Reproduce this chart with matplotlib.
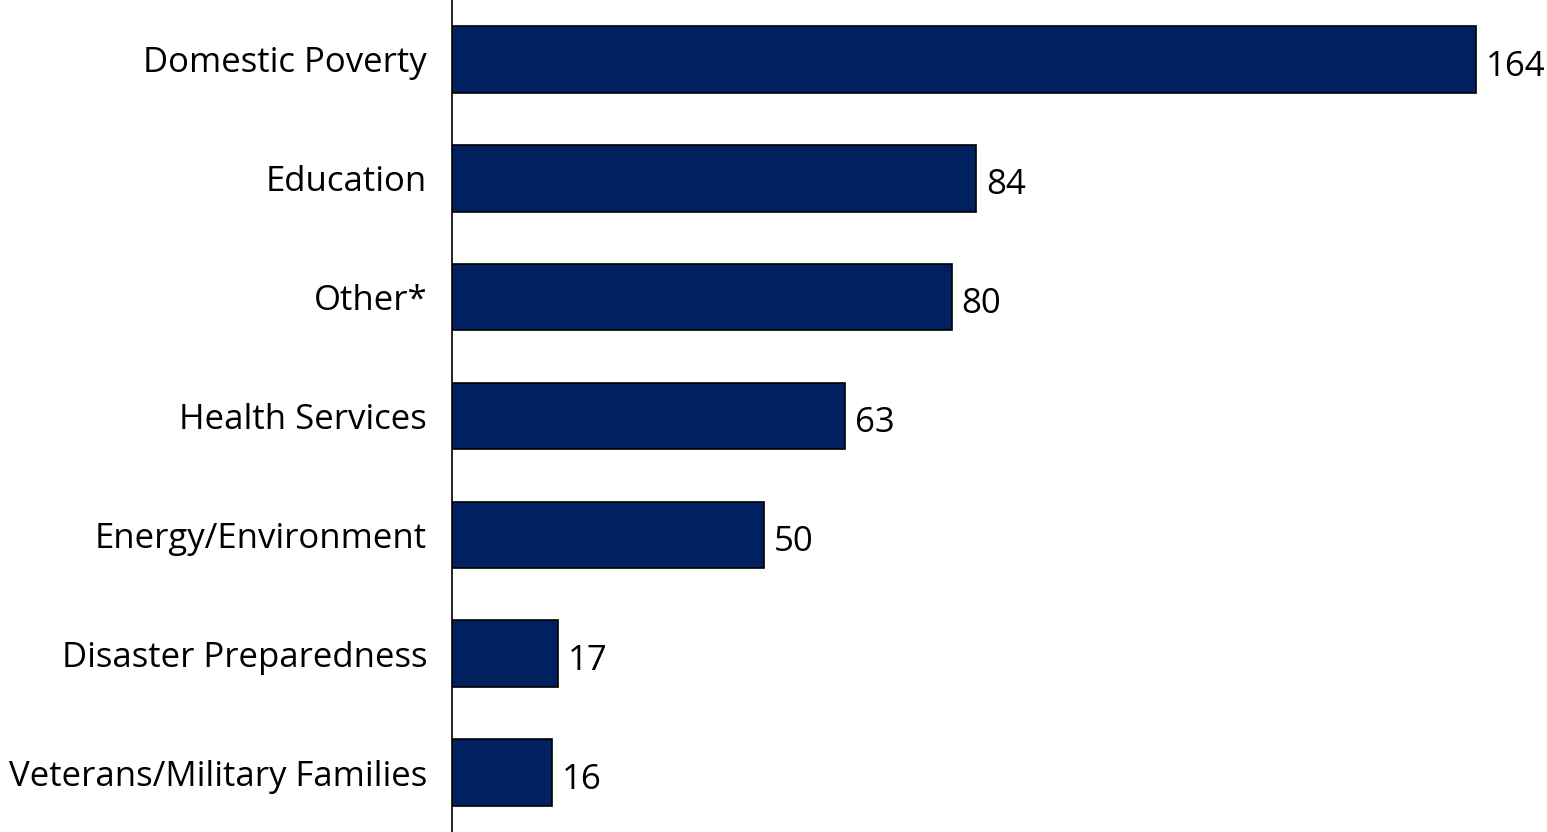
import numpy as np
import matplotlib.pyplot as plt

plt.rcParams['font.family'] = ['Open Sans', 'DejaVu Sans']

categories = ['Domestic Poverty', 'Education', 'Other*', 'Health Services',
              'Energy/Environment', 'Disaster Preparedness', 'Veterans/Military Families']
values = [164, 84, 80, 63, 50, 17, 16]

fig = plt.figure(figsize=(15.47, 8.32), dpi=100)
ax = fig.add_axes([452 / 1547, 0.0, 1 - 452 / 1547, 1.0])

y = np.arange(len(categories))
ax.barh(y, values, height=0.56, color='#00205F', edgecolor='black', linewidth=1.2)

for yi, v in zip(y, values):
    ax.text(v + 1.6, yi + 0.06, str(v), va='center', ha='left', fontsize=25, color='black')

ax.set_yticks(y)
ax.set_yticklabels(categories, fontsize=25)
ax.tick_params(axis='y', length=0, pad=18)
ax.set_xticks([])
ax.set_ylim(len(categories) - 0.5, -0.5)
ax.set_xlim(0, 1095 / (1024 / 164))

for s in ['top', 'right', 'bottom']:
    ax.spines[s].set_visible(False)
ax.spines['left'].set_linewidth(1.2)

fig.savefig('out.png', dpi=100)
